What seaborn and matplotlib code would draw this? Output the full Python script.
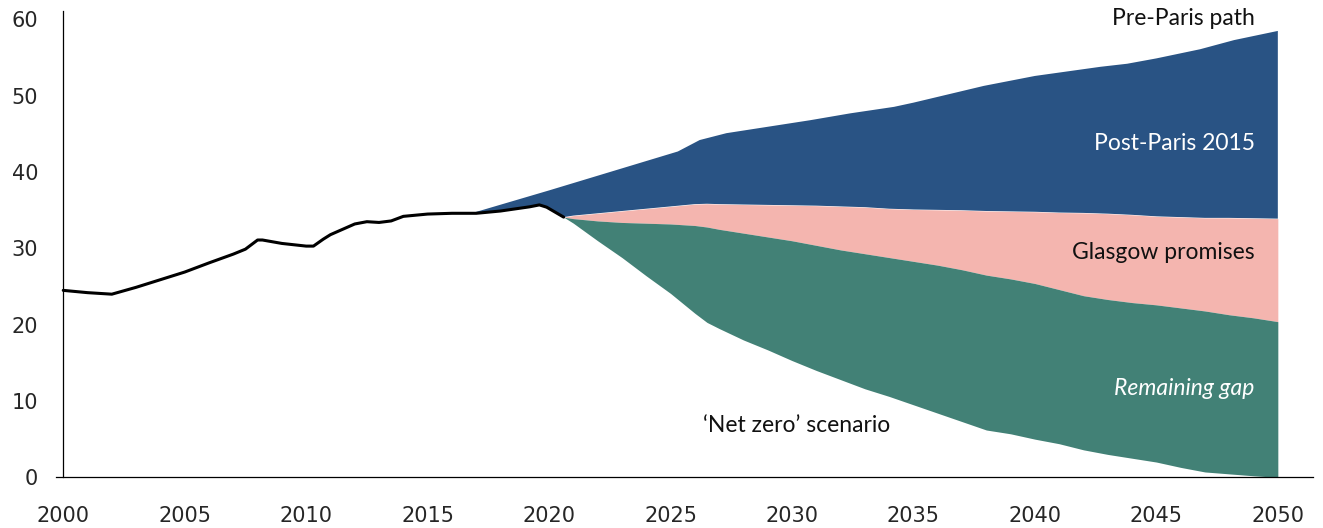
import numpy as np
import pandas as pd
import matplotlib
matplotlib.use('Agg')
import matplotlib.pyplot as plt
import seaborn as sns

sns.set_style("white")
plt.rcParams['font.family'] = ['DejaVu Sans']

# Historical emissions (black line)
hist_years = [2000, 2001, 2002, 2003, 2004, 2005, 2006, 2007, 2007.5, 2008, 2008.2,
              2009, 2010, 2010.3, 2010.7, 2011, 2012, 2012.5, 2013, 2013.5, 2014,
              2015, 2016, 2017, 2018, 2019.2, 2019.6, 2019.9, 2020.6]
hist_vals = [24.5, 24.2, 24.0, 24.9, 25.9, 26.9, 28.1, 29.25, 29.9, 31.1, 31.1,
             30.65, 30.3, 30.3, 31.2, 31.8, 33.2, 33.5, 33.4, 33.6, 34.2,
             34.5, 34.6, 34.6, 34.9, 35.45, 35.7, 35.4, 34.1]

# Pre-Paris path (top of blue band)
pre_years = [2016.8, 2020, 2025.3, 2026.2, 2027.3, 2030.75, 2032.4, 2034.2, 2035,
             2037.9, 2040, 2042.7, 2043.8, 2045, 2046.8, 2048.2, 2050]
pre_vals = [34.6, 37.6, 42.7, 44.2, 45.1, 46.8, 47.7, 48.55, 49.1,
            51.3, 52.6, 53.8, 54.2, 54.9, 56.1, 57.3, 58.5]

# Projections from 2020
proj_years = [2020.6, 2021, 2022, 2023, 2024, 2025, 2026, 2026.5, 2027, 2028, 2029,
              2030, 2031, 2032, 2033, 2034, 2035, 2036, 2037, 2038, 2039, 2040,
              2041, 2042, 2043, 2044, 2045, 2046, 2047, 2048, 2049, 2050]
post_paris = [34.1, 34.3, 34.6, 34.9, 35.2, 35.5, 35.8, 35.85, 35.8, 35.75, 35.7,
              35.65, 35.6, 35.5, 35.4, 35.2, 35.1, 35.05, 35.0, 34.9, 34.85, 34.8,
              34.7, 34.65, 34.55, 34.4, 34.2, 34.1, 34.0, 34.0, 33.95, 33.9]
glasgow = [34.1, 33.9, 33.6, 33.4, 33.3, 33.2, 33.0, 32.8, 32.5, 32.0, 31.5,
           31.0, 30.4, 29.8, 29.3, 28.8, 28.3, 27.8, 27.2, 26.5, 26.0, 25.4,
           24.6, 23.8, 23.3, 22.9, 22.6, 22.2, 21.8, 21.3, 20.9, 20.4]
net_zero = [34.1, 33.3, 31.0, 28.8, 26.4, 24.1, 21.5, 20.3, 19.5, 18.0, 16.7,
            15.3, 14.0, 12.8, 11.6, 10.6, 9.5, 8.4, 7.3, 6.2, 5.7, 5.0,
            4.4, 3.6, 3.0, 2.5, 2.0, 1.3, 0.7, 0.45, 0.2, 0.0]

BLUE = '#295384'
PINK = '#F4B5AF'
GREEN = '#428176'

fig = plt.figure(figsize=(13.23, 5.28), dpi=100)
ax = fig.add_axes([0.0423, 0.096, 0.9500, 0.883])

# Blue band: pre-Paris path down to post-Paris line and history
hist_df = pd.DataFrame({'year': hist_years, 'value': hist_vals})
seg = hist_df[hist_df['year'] >= pre_years[0]]
poly_x = list(pre_years) + list(proj_years[::-1]) + list(seg['year'][::-1])
poly_y = list(pre_vals) + list(post_paris[::-1]) + list(seg['value'][::-1])
ax.fill(poly_x, poly_y, color=BLUE, lw=0)

ax.fill_between(proj_years, glasgow, post_paris, color=PINK, lw=0)
ax.fill_between(proj_years, net_zero, glasgow, color=GREEN, lw=0)

sns.lineplot(data=hist_df, x='year', y='value', color='black', linewidth=2.2,
             ax=ax, sort=False)

ax.set_xlim(1999.7, 2051.44)
ax.set_ylim(0, 61.1)
ax.set_xticks(range(2000, 2051, 5))
ax.set_yticks(range(0, 61, 10))
ax.set_xlabel('')
ax.set_ylabel('')

for s in ['top', 'right']:
    ax.spines[s].set_visible(False)
ax.spines['left'].set_position(('data', 2000))
ax.spines['left'].set_color('black')
ax.spines['bottom'].set_color('black')
ax.spines['left'].set_linewidth(0.9)
ax.spines['bottom'].set_linewidth(0.9)

ax.tick_params(axis='x', direction='out', length=5, width=0.9, pad=16,
               labelsize=15, color='black')
ax.tick_params(axis='y', length=0, pad=18, labelsize=15)

ann_font = ['Lato', 'DejaVu Sans']
ax.text(2049.05, 60.1, 'Pre-Paris path', ha='right', va='center',
        fontsize=16.5, color='#111111', family=ann_font)
ax.text(2049.05, 43.7, 'Post-Paris 2015', ha='right', va='center',
        fontsize=16.5, color='white', family=ann_font)
ax.text(2049.05, 29.4, 'Glasgow promises', ha='right', va='center',
        fontsize=16.5, color='#111111', family=ann_font)
ax.text(2049.05, 11.7, 'Remaining gap', ha='right', va='center',
        fontsize=16.5, color='white', style='italic', family=ann_font)
ax.text(2026.34, 6.85, '\u2018Net zero\u2019 scenario', ha='left', va='center',
        fontsize=16.5, color='#111111', family=ann_font)

plt.savefig('out.png', dpi=100)
